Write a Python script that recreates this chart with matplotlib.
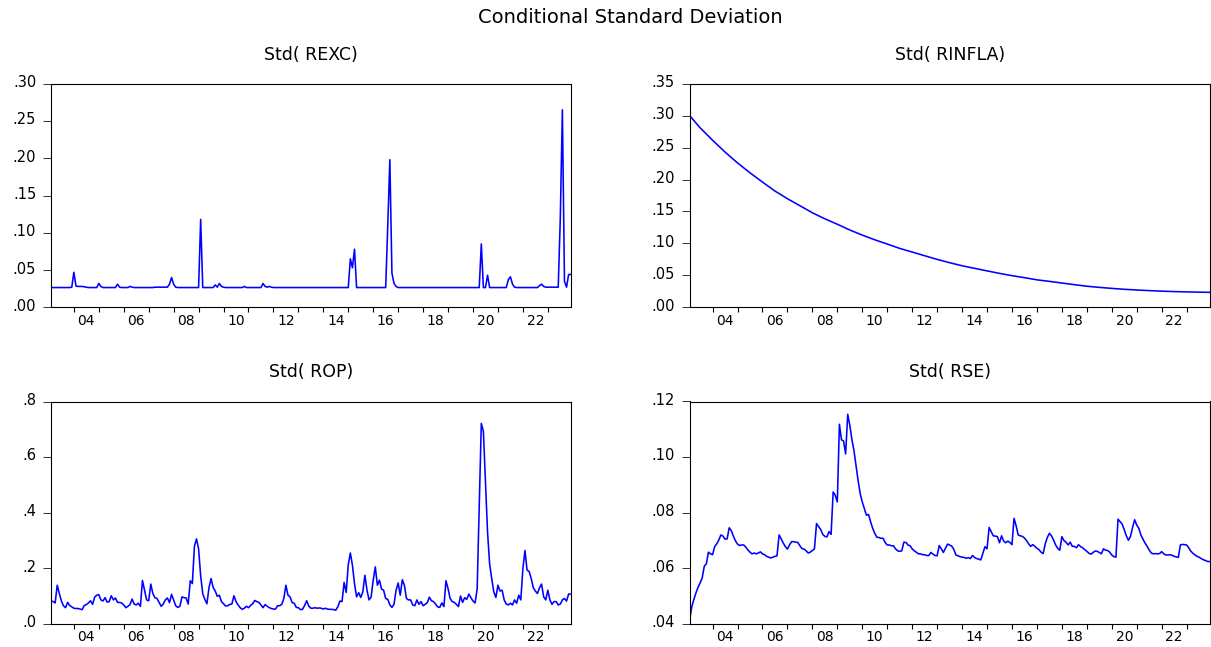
import numpy as np
import matplotlib
matplotlib.use("Agg")
import matplotlib.pyplot as plt
from matplotlib.transforms import ScaledTranslation

# monthly conditional std. dev., first observation 2003M02
start_year, start_month = 2003, 2

rexc = [
    .0265, .0265, .0265, .0265, .0265, .0265, .0265, .0265, .0265, .0265, .027, .047,
    .0285, .028, .028, .028, .0275, .027, .0265, .0265, .0265, .0265, .0265, .032,
    .028, .0265, .0265, .0265, .0265, .0265, .0265, .0265, .031, .027, .0265, .0265,
    .0265, .0265, .028, .027, .0265, .0265, .0265, .0265, .0265, .0265, .0265, .0265,
    .0265, .0265, .027, .027, .027, .027, .027, .027, .027, .031, .040, .031,
    .027, .0265, .0265, .0265, .0265, .0265, .0265, .0265, .0265, .0265, .0265, .0265,
    .118, .0265, .0265, .0265, .0265, .0265, .0265, .030, .027, .032, .028, .027,
    .0265, .0265, .0265, .0265, .0265, .0265, .0265, .0265, .0265, .028, .0265, .0265,
    .0265, .0265, .0265, .0265, .0265, .0265, .032, .028, .027, .028, .027, .0265,
    .0265, .0265, .0265, .0265, .0265, .0265, .0265, .0265, .0265, .0265, .0265, .0265,
    .0265, .0265, .0265, .0265, .0265, .0265, .0265, .0265, .0265, .0265, .0265, .0265,
    .0265, .0265, .0265, .0265, .0265, .0265, .0265, .0265, .0265, .0265, .0265, .0265,
    .065, .053, .078, .0265, .0265, .0265, .0265, .0265, .0265, .0265, .0265, .0265,
    .0265, .0265, .0265, .0265, .0265, .0265, .11, .198, .046, .032, .028, .0265,
    .0265, .0265, .0265, .0265, .0265, .0265, .0265, .0265, .0265, .0265, .0265, .0265,
    .0265, .0265, .0265, .0265, .0265, .0265, .0265, .0265, .0265, .0265, .0265, .0265,
    .0265, .0265, .0265, .0265, .0265, .0265, .0265, .0265, .0265, .0265, .0265, .0265,
    .0265, .0265, .0265, .085, .0265, .0265, .043, .0265, .0265, .0265, .0265, .0265,
    .0265, .0265, .0265, .0265, .037, .041, .031, .027, .0265, .0265, .0265, .0265,
    .0265, .0265, .0265, .0265, .0265, .0265, .0265, .029, .031, .028, .027, .027,
    .027, .027, .027, .027, .027, .12, .265, .035, .027, .044, .044,
]

rop = [
    .082, .079, .074, .138, .108, .081, .064, .057, .076, .065, .060, .055,
    .054, .054, .052, .050, .065, .068, .074, .082, .069, .095, .102, .104,
    .085, .081, .093, .077, .079, .100, .085, .092, .076, .076, .074, .067,
    .057, .062, .068, .088, .070, .067, .073, .062, .155, .120, .085, .082,
    .142, .108, .093, .090, .076, .062, .070, .085, .092, .075, .105, .085,
    .064, .058, .062, .096, .093, .092, .070, .154, .144, .279, .305, .269,
    .171, .107, .087, .071, .129, .162, .130, .117, .098, .102, .079, .071,
    .063, .064, .069, .070, .100, .079, .067, .057, .051, .055, .062, .057,
    .065, .071, .083, .079, .076, .067, .057, .068, .062, .057, .054, .052,
    .052, .064, .064, .069, .090, .138, .102, .096, .075, .073, .058, .057,
    .050, .051, .065, .082, .063, .055, .055, .057, .055, .056, .055, .052,
    .055, .052, .051, .051, .050, .048, .061, .081, .079, .148, .112, .212,
    .254, .210, .144, .096, .111, .094, .114, .174, .120, .085, .096, .156,
    .204, .138, .156, .124, .120, .090, .087, .067, .058, .069, .120, .146,
    .102, .158, .138, .090, .085, .085, .067, .064, .085, .069, .079, .064,
    .069, .075, .095, .082, .079, .070, .060, .058, .074, .061, .154, .126,
    .090, .079, .076, .069, .061, .099, .076, .093, .087, .106, .093, .081,
    .074, .124, .420, .721, .692, .507, .329, .215, .162, .114, .094, .138,
    .117, .120, .085, .070, .067, .073, .067, .085, .073, .102, .085, .198,
    .263, .192, .188, .162, .129, .117, .108, .129, .142, .096, .085, .120,
    .085, .069, .079, .079, .067, .070, .085, .090, .081, .106, .106,
]

rse = [
    .0415, .046, .0487, .051, .053, .0546, .0564, .0606, .0615, .0657, .0651, .0648,
    .0677, .0687, .0701, .0719, .0715, .0704, .0705, .0745, .0735, .0715, .0698, .0686,
    .0681, .0683, .0683, .0675, .0665, .0657, .0651, .0654, .0651, .0654, .0658, .0651,
    .0648, .0642, .0639, .0636, .0639, .0642, .0644, .0719, .0705, .069, .0677, .0668,
    .0683, .0695, .0695, .0693, .0692, .068, .067, .0668, .0662, .0654, .0657, .0663,
    .0669, .076, .0749, .0739, .0721, .0714, .0712, .0731, .0721, .0874, .0862, .0838,
    .1118, .1062, .1058, .1011, .1154, .1114, .1064, .1023, .0969, .0915, .0868, .0838,
    .0814, .079, .0793, .0767, .0743, .0725, .0711, .071, .0707, .0707, .0692, .0683,
    .0683, .068, .068, .0669, .0662, .066, .0662, .0693, .0692, .0683, .068, .0669,
    .0662, .0657, .0651, .0651, .0648, .0648, .0645, .0645, .0656, .065, .0645, .0644,
    .0681, .0669, .0656, .0671, .0686, .0683, .0679, .0668, .0647, .0644, .0641, .0639,
    .0638, .0635, .0637, .0634, .0645, .0638, .0634, .0632, .0629, .0653, .0677, .0669,
    .0746, .0731, .0716, .0715, .0713, .0691, .0716, .0697, .0691, .0697, .0692, .0684,
    .0779, .0752, .0719, .0716, .0714, .0708, .0699, .0687, .0678, .0684, .0678, .0671,
    .0666, .0657, .0652, .0687, .071, .0725, .0716, .0701, .0683, .0671, .0664, .0713,
    .0699, .0693, .0683, .0693, .0678, .0678, .0673, .0684, .0677, .0673, .0666, .066,
    .0653, .065, .0656, .0661, .066, .0656, .0651, .0669, .0664, .0663, .0657, .0647,
    .0641, .0639, .0776, .0767, .0758, .0738, .0716, .07, .0714, .0746, .0774, .0755,
    .0743, .0719, .0704, .069, .0678, .0665, .0654, .0651, .0652, .0651, .0652, .0659,
    .0651, .0647, .0647, .0648, .0646, .0642, .064, .0638, .0683, .0685, .0684, .0683,
    .0673, .0661, .0653, .0647, .0642, .0639, .0634, .063, .0627, .0624, .0623,
]

# smooth series, read every half year
rinfla_t = [2003.083, 2003.5, 2004.0, 2004.5, 2005.0, 2005.5, 2006.0, 2006.5, 2007.0, 2007.5,
            2008.0, 2008.5, 2009.0, 2009.5, 2010.0, 2010.5, 2011.0, 2011.5, 2012.0, 2012.5,
            2013.0, 2013.5, 2014.0, 2014.5, 2015.0, 2015.5, 2016.0, 2016.5, 2017.0, 2017.5,
            2018.0, 2018.5, 2019.0, 2019.5, 2020.0, 2020.5, 2021.0, 2021.5, 2022.0, 2022.5,
            2023.0, 2023.5, 2023.917]
rinfla = [.300, .281, .2615, .243, .226, .2105, .196, .182, .170, .159,
          .148, .1385, .130, .121, .113, .1057, .099, .0922, .0865, .0807,
          .075, .0698, .065, .061, .057, .0531, .0495, .0464, .043, .0406,
          .038, .0354, .033, .0312, .0296, .0282, .0271, .0261, .0253, .0246,
          .0241, .0237, .0234]

titles = ["Std( REXC)", "Std( RINFLA)", "Std( ROP)", "Std( RSE)"]
year_ticks = list(range(2004, 2024))
x_labels = ["04", "06", "08", "10", "12", "14", "16", "18", "20", "22"]
y_ticks = [[0, .05, .10, .15, .20, .25, .30],
           [0, .05, .10, .15, .20, .25, .30, .35],
           [0, .2, .4, .6, .8],
           [.04, .06, .08, .10, .12]]
y_labels = [[".00", ".05", ".10", ".15", ".20", ".25", ".30"],
            [".00", ".05", ".10", ".15", ".20", ".25", ".30", ".35"],
            [".0", ".2", ".4", ".6", ".8"],
            [".04", ".06", ".08", ".10", ".12"]]

months = start_year + (start_month - 1 + np.arange(len(rexc))) / 12.0
series = [(months, rexc), (rinfla_t, rinfla), (months, rop), (months, rse)]

W, H = 1211, 647
fig = plt.figure(figsize=(W / 100, H / 100), dpi=100)


def rect(l, t, r, b):
    return [l / W, 1 - b / H, (r - l) / W, (b - t) / H]


rects = [rect(51, 83.7, 570.7, 307.3), rect(689.7, 83.7, 1209.5, 307.3),
         rect(51, 401.5, 570.7, 623.5), rect(689.7, 401.5, 1209.5, 623.5)]

for k in range(4):
    ax = fig.add_axes(rects[k])
    x, y = series[k]
    ax.plot(x, y, color="#0000FF", lw=1.15)
    ax.set_xlim(months[0], months[-1])
    ax.set_ylim(y_ticks[k][0], y_ticks[k][-1])
    ax.set_yticks(y_ticks[k])
    ax.set_yticklabels(y_labels[k])
    ax.set_xticks(year_ticks)
    ax.set_xticklabels([])
    ax.set_xticks([2000 + int(s) + 0.5 for s in x_labels], minor=True)
    ax.set_xticklabels(x_labels, minor=True)
    ax.tick_params(axis="y", which="major", length=5.5, width=0.7, pad=5.2,
                   labelsize=10.5, color="#333333")
    ax.tick_params(axis="x", which="major", length=3.4, width=0.8, color="black")
    ax.tick_params(axis="x", which="minor", length=0, pad=4.5, labelsize=10)
    ax.tick_params(axis="y", which="minor", left=False)
    for lab in ax.get_yticklabels():
        lab.set_transform(lab.get_transform() + ScaledTranslation(0, 2.5 / 100, fig.dpi_scale_trans))
    for sp in ax.spines.values():
        sp.set_linewidth(0.8)
        sp.set_color("black")
    ax.set_title(titles[k], fontsize=12.5, pad=17.4)

fig.text(630.5 / W, 1 - 23.3 / H, "Conditional Standard Deviation",
         ha="center", va="baseline", fontsize=14)

fig.savefig("out.png", dpi=100)
